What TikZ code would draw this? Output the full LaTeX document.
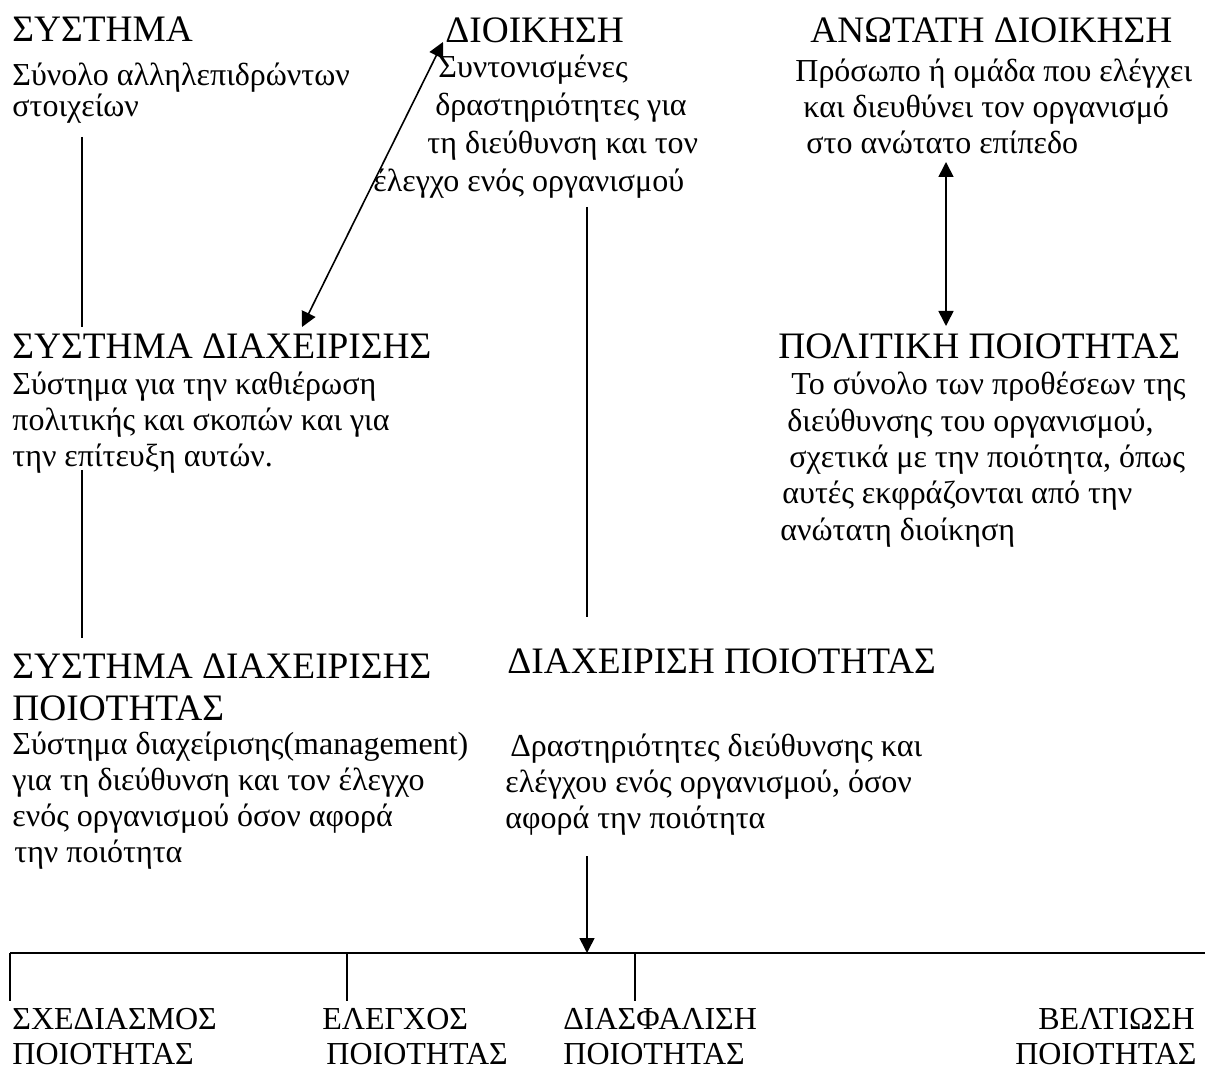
\documentclass[tikz,border=0pt]{standalone}
\usepackage{fontspec}
\setmainfont{Liberation Serif}
\usetikzlibrary{arrows.meta}
\begin{document}
\begin{tikzpicture}[x=0.5pt,y=-0.5pt,
  head/.style={font=\fontsize{18.67}{21}\selectfont, anchor=base west, inner sep=0pt},
  txt/.style={font=\fontsize{16}{18}\selectfont, anchor=base west, inner sep=0pt},
  link/.style={line width=0.8pt},
  tip/.style={-{Triangle[length=7.5pt,width=7.5pt]}},
  both/.style={{Triangle[length=7.5pt,width=7.5pt]}-{Triangle[length=7.5pt,width=7.5pt]}}]
\useasboundingbox (0,0) rectangle (1205,1069);

% system
\node[head] (sysT) at (12,42) {ΣΥΣΤΗΜΑ};
\node[txt] (sys1) at (12,86) {Σύνολο αλληλεπιδρώντων};
\node[txt] (sys2) at (12,117) {στοιχείων};

% management
\node[head] (mgT) at (445,43) {ΔΙΟΙΚΗΣΗ};
\node[txt] (mg1) at (438,78) {Συντονισμένες};
\node[txt] (mg2) at (435,116) {δραστηριότητες για};
\node[txt] (mg3) at (427,154) {τη διεύθυνση και τον};
\node[txt] (mg4) at (373,192) {έλεγχο ενός οργανισμού};

% top management
\node[head] (topT) at (810,43) {ΑΝΩΤΑΤΗ ΔΙΟΙΚΗΣΗ};
\node[txt] (top1) at (795,82) {Πρόσωπο ή ομάδα που ελέγχει};
\node[txt] (top2) at (803,118) {και διευθύνει τον οργανισμό};
\node[txt] (top3) at (806,154) {στο ανώτατο επίπεδο};

% management system
\node[head] (msT) at (12,359) {ΣΥΣΤΗΜΑ ΔΙΑΧΕΙΡΙΣΗΣ};
\node[txt] (ms1) at (12,395) {Σύστημα για την καθιέρωση};
\node[txt] (ms2) at (12,431) {πολιτικής και σκοπών και για};
\node[txt] (ms3) at (12,467) {την επίτευξη αυτών.};

% quality policy
\node[head] (qpT) at (778,359) {ΠΟΛΙΤΙΚΗ ΠΟΙΟΤΗΤΑΣ};
\node[txt] (qp1) at (791,395) {Το σύνολο των προθέσεων της};
\node[txt] (qp2) at (787,432) {διεύθυνσης του οργανισμού,};
\node[txt] (qp3) at (789,468) {σχετικά με την ποιότητα, όπως};
\node[txt] (qp4) at (782,503) {αυτές εκφράζονται από την};
\node[txt] (qp5) at (780,540) {ανώτατη διοίκηση};

% quality management system
\node[head] (qmsT1) at (12,678) {ΣΥΣΤΗΜΑ ΔΙΑΧΕΙΡΙΣΗΣ};
\node[head] (qmsT2) at (12,720) {ΠΟΙΟΤΗΤΑΣ};
\node[txt] (qms1) at (12,754) {Σύστημα διαχείρισης(management)};
\node[txt] (qms2) at (12,790) {για τη διεύθυνση και τον έλεγχο};
\node[txt] (qms3) at (12,826) {ενός οργανισμού όσον αφορά};
\node[txt] (qms4) at (14,862) {την ποιότητα};

% quality management
\node[head] (qmT) at (507,673) {ΔΙΑΧΕΙΡΙΣΗ ΠΟΙΟΤΗΤΑΣ};
\node[txt] (qm1) at (510,756) {Δραστηριότητες διεύθυνσης και};
\node[txt] (qm2) at (505,792) {ελέγχου ενός οργανισμού, όσον};
\node[txt] (qm3) at (505,828) {αφορά την ποιότητα};

% the four branches
\node[txt] (pl1) at (12,1029) {ΣΧΕΔΙΑΣΜΟΣ};
\node[txt] (pl2) at (12,1064) {ΠΟΙΟΤΗΤΑΣ};
\node[txt] (qc1) at (322,1029) {ΕΛΕΓΧΟΣ};
\node[txt] (qc2) at (326,1064) {ΠΟΙΟΤΗΤΑΣ};
\node[txt] (qa1) at (563,1029) {ΔΙΑΣΦΑΛΙΣΗ};
\node[txt] (qa2) at (563,1064) {ΠΟΙΟΤΗΤΑΣ};
\node[txt, anchor=base east] (qi1) at (1195,1029) {ΒΕΛΤΙΩΣΗ};
\node[txt, anchor=base east] (qi2) at (1197,1064) {ΠΟΙΟΤΗΤΑΣ};

% connector end points
\coordinate (a1) at (82,137);  \coordinate (a2) at (82,327);
\coordinate (b1) at (82,470);  \coordinate (b2) at (82,638);
\coordinate (d1) at (302,327); \coordinate (d2) at (443,42);
\coordinate (m1) at (587,207); \coordinate (m2) at (587,617);
\coordinate (r1) at (946,162); \coordinate (r2) at (946,326);
\coordinate (q1) at (587,856); \coordinate (q2) at (587,953);
\coordinate (hl) at (10,953);  \coordinate (hr) at (1205,953);
\coordinate (t1) at (347,953); \coordinate (t2) at (635,953);

\draw[link] (a1) -- (a2);
\draw[link] (b1) -- (b2);
\draw[link] (m1) -- (m2);
\draw[link, both] (d1) -- (d2);
\draw[link, both] (r1) -- (r2);
\draw[link, tip] (q1) -- (q2);
\draw[line width=1.1pt] (hl) -- (hr);
\draw[link] (hl) -- ++(0,48);
\draw[link] (t1) -- ++(0,48);
\draw[link] (t2) -- ++(0,48);
\end{tikzpicture}
\end{document}
